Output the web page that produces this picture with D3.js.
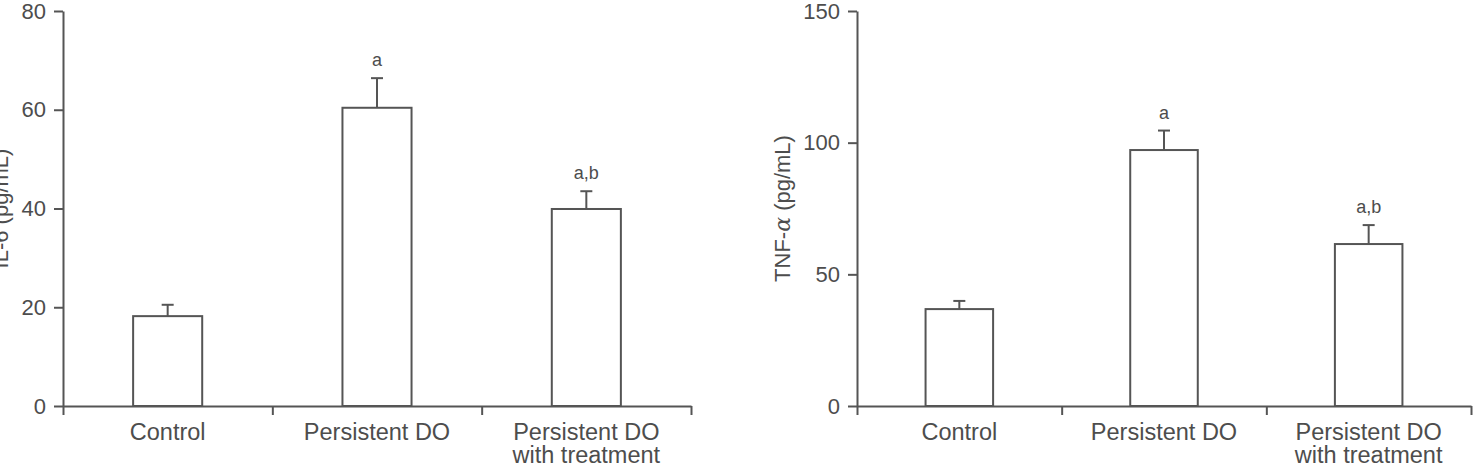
<!DOCTYPE html>
<html><head><meta charset="UTF-8">
<title>IL-6 and TNF-alpha</title>
<script src="https://d3js.org/d3.v7.min.js"></script>
<style>
  body { margin: 0; background: #fff; }
  svg text { font-family: 'Liberation Sans', Arial, sans-serif; fill: #4d4d4d; }
  .axis path, .axis line { stroke: #555; stroke-width: 2; }
</style>
</head>
<body>
<svg id="chart" width="1475" height="468"></svg>
<script>
// data
var groups = ["Control", "Persistent DO", "Persistent DO|with treatment"];
var sig = ["", "a", "a,b"];
var il6Mean = [18.2, 60.4, 39.9];
var il6Err  = [2.3, 6.0, 3.6];
var tnfMean = [36.8, 97.2, 61.5];
var tnfErr  = [3.1, 7.4, 7.2];
var il6Ticks = [0, 20, 40, 60, 80];
var tnfTicks = [0, 50, 100, 150];

var svg = d3.select("#chart");
var top0 = 11, bottom0 = 406;

function panel(left, right, mean, err, yMax, ticks, yLabel, greek, yUnit, labelX) {
	var g = svg.append("g");
	var x = d3.scaleBand().domain(groups).range([left, right]).paddingInner(0).paddingOuter(0);
	var y = d3.scaleLinear().domain([0, yMax]).range([bottom0, top0]);
	var bw = x.bandwidth() * 0.33;

	// x axis line, ticks at group boundaries
	var xb = d3.scaleLinear().domain([0, 3]).range([left, right]);
	g.append("g").attr("class", "axis")
		.attr("transform", "translate(0," + bottom0 + ")")
		.call(d3.axisBottom(xb).tickValues([0, 1, 2, 3]).tickSize(9).tickSizeOuter(0).tickFormat(""));

	// y axis
	var ya = g.append("g").attr("class", "axis")
		.attr("transform", "translate(" + left + ",0)")
		.call(d3.axisLeft(y).tickValues(ticks).tickSize(9).tickSizeOuter(0).tickPadding(8));
	ya.selectAll("text").style("font-size", "22px").style("fill", "#4d4d4d")
		.style("font-family", "'Liberation Sans', Arial, sans-serif");

	var data = groups.map(function(d, i) {
		return {name: d, m: mean[i], e: err[i], s: sig[i]};
	});
	var cx = function(d) { return x(d.name) + x.bandwidth() / 2; };

	// error bars
	g.selectAll(".err").data(data).enter().append("line")
		.attr("x1", cx).attr("x2", cx)
		.attr("y1", function(d) { return y(d.m); })
		.attr("y2", function(d) { return y(d.m + d.e); })
		.attr("stroke", "#555").attr("stroke-width", 2);
	g.selectAll(".cap").data(data).enter().append("line")
		.attr("x1", function(d) { return cx(d) - 6; })
		.attr("x2", function(d) { return cx(d) + 6; })
		.attr("y1", function(d) { return y(d.m + d.e); })
		.attr("y2", function(d) { return y(d.m + d.e); })
		.attr("stroke", "#555").attr("stroke-width", 2);

	// bars
	g.selectAll(".bar").data(data).enter().append("rect")
		.attr("x", function(d) { return cx(d) - bw / 2; })
		.attr("y", function(d) { return y(d.m); })
		.attr("width", bw)
		.attr("height", function(d) { return bottom0 - y(d.m); })
		.attr("fill", "#fff").attr("stroke", "#555").attr("stroke-width", 2);

	// significance letters
	g.selectAll(".sig").data(data).enter().append("text")
		.attr("x", cx)
		.attr("y", function(d) { return y(d.m + d.e) - 12; })
		.attr("text-anchor", "middle")
		.style("font-size", "18px")
		.text(function(d) { return d.s; });

	// category labels
	data.forEach(function(d) {
		var t = g.append("text")
			.attr("x", cx(d))
			.attr("y", 440)
			.attr("text-anchor", "middle")
			.style("font-size", "23.5px");
		d.name.split("|").forEach(function(l, k) {
			t.append("tspan")
				.attr("x", cx(d))
				.attr("dy", k == 0 ? 0 : 23)
				.text(l);
		});
	});

	// y label
	var yl = g.append("text")
		.attr("transform", "translate(" + labelX + "," + (top0 + bottom0) / 2 + ") rotate(-90)")
		.attr("text-anchor", "middle")
		.style("font-size", "22px");
	yl.append("tspan").text(yLabel);
	if (greek) {
		yl.append("tspan").style("font-family", "'DejaVu Serif', serif").style("font-style", "italic").text(greek);
	}
	yl.append("tspan").text(yUnit);
}

panel(63, 691, il6Mean, il6Err, 80, il6Ticks, "IL-6", "", " (pg/mL)", 8);
panel(857, 1471, tnfMean, tnfErr, 150, tnfTicks, "TNF-", "\u03b1", " (pg/mL)", 790);
</script>
</body></html>
